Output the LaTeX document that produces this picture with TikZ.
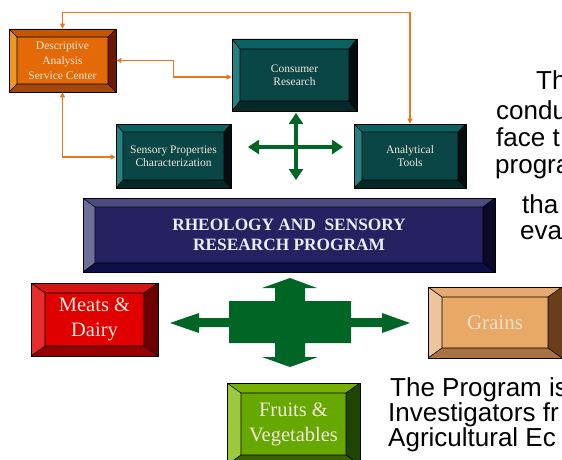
\documentclass[tikz,border=0pt]{standalone}
\usepackage{fontspec}
\setmainfont{Liberation Serif}
\newfontfamily\arialf{Liberation Sans}
\usetikzlibrary{arrows.meta}
\definecolor{orln}{RGB}{232,119,30}
\definecolor{grn}{RGB}{0,102,38}
\definecolor{boxtxt}{RGB}{242,232,220}
% descriptive
\definecolor{dFace}{RGB}{228,106,8}
\definecolor{dTop}{RGB}{196,88,0}
\definecolor{dLeft}{RGB}{238,150,40}
\definecolor{dRight}{RGB}{106,26,0}
\definecolor{dBot}{RGB}{164,72,10}
% teal
\definecolor{tFace}{RGB}{10,70,70}
\definecolor{tTop}{RGB}{10,98,98}
\definecolor{tLeft}{RGB}{38,130,130}
\definecolor{tRight}{RGB}{4,14,14}
\definecolor{tBot}{RGB}{5,40,40}
% navy
\definecolor{nFace}{RGB}{38,34,98}
\definecolor{nTop}{RGB}{75,75,130}
\definecolor{nLeft}{RGB}{110,110,154}
\definecolor{nRight}{RGB}{10,10,40}
\definecolor{nBot}{RGB}{14,14,72}
% red
\definecolor{rFace}{RGB}{224,0,0}
\definecolor{rTop}{RGB}{214,20,20}
\definecolor{rLeft}{RGB}{232,44,44}
\definecolor{rRight}{RGB}{108,0,0}
\definecolor{rBot}{RGB}{150,0,0}
% grains
\definecolor{gFace}{RGB}{232,168,102}
\definecolor{gTop}{RGB}{228,170,112}
\definecolor{gLeft}{RGB}{238,196,154}
\definecolor{gRight}{RGB}{106,62,26}
\definecolor{gBot}{RGB}{168,114,66}
% fruits
\definecolor{fFace}{RGB}{102,168,0}
\definecolor{fTop}{RGB}{120,176,0}
\definecolor{fLeft}{RGB}{156,200,60}
\definecolor{fRight}{RGB}{30,70,0}
\definecolor{fBot}{RGB}{58,96,0}
\tikzset{
 bevelbox/.style n args={7}{
  draw=black, line width=0.8pt, fill=#1, inner sep=0pt, align=center, text=boxtxt,
  path picture={
   \path (path picture bounding box.north west) coordinate (bbNW)
         (path picture bounding box.south east) coordinate (bbSE)
         (path picture bounding box.north east) coordinate (bbNE)
         (path picture bounding box.south west) coordinate (bbSW);
   \path ([shift={(#6pt,-#7pt)}]bbNW) coordinate (biNW)
         ([shift={(-#6pt,-#7pt)}]bbNE) coordinate (biNE)
         ([shift={(-#6pt,#7pt)}]bbSE) coordinate (biSE)
         ([shift={(#6pt,#7pt)}]bbSW) coordinate (biSW);
   \fill[#2] (bbNW) -- (bbNE) -- (biNE) -- (biNW) -- cycle;
   \fill[#3] (bbNW) -- (biNW) -- (biSW) -- (bbSW) -- cycle;
   \fill[#4] (bbNE) -- (bbSE) -- (biSE) -- (biNE) -- cycle;
   \fill[#5] (bbSW) -- (biSW) -- (biSE) -- (bbSE) -- cycle;
   \draw[line width=0.6pt] (biNW) rectangle (biSE) (bbNW)--(biNW) (bbNE)--(biNE) (bbSE)--(biSE) (bbSW)--(biSW);
  }
 },
 orarrow/.style={draw=orln, line width=1.3pt, {Triangle[length=5pt,width=5pt]}-{Triangle[length=5pt,width=5pt]}},
 crossarrow/.style={draw=grn, line width=3.5pt, {Triangle[length=11pt,width=14pt]}-{Triangle[length=11pt,width=14pt]}},
 bodytext/.style={font=\arialf\fontsize{26}{27}\selectfont, text=black, inner sep=0pt, anchor=base west},
 smallf/.style={font=\fontsize{11.5}{13}\selectfont},
 bigf/.style={font=\fontsize{20.5}{24.5}\selectfont}
}
\begin{document}
\begin{tikzpicture}[x=1pt,y=-1pt]
\useasboundingbox[fill=white] (0,0) rectangle (562,460);

% boxes
\node[bevelbox={dFace}{dTop}{dLeft}{dRight}{dBot}{8}{8}, minimum width=107pt, minimum height=63pt,
  font=\fontsize{11.5}{15}\selectfont] (desc) at (62.5,60.5) {Descriptive\\Analysis\\Service Center};
\node[bevelbox={tFace}{tTop}{tLeft}{tRight}{tBot}{8}{10}, minimum width=125pt, minimum height=72pt, smallf]
  (cons) at (294.5,75) {Consumer\\Research};
\node[bevelbox={tFace}{tTop}{tLeft}{tRight}{tBot}{7}{8}, minimum width=115pt, minimum height=64pt, smallf]
  (sens) at (173.5,156) {Sensory Properties\\Characterization};
\node[bevelbox={tFace}{tTop}{tLeft}{tRight}{tBot}{8}{8}, minimum width=112pt, minimum height=64pt, smallf]
  (anal) at (410,156) {Analytical\\Tools};
\node[bevelbox={nFace}{nTop}{nLeft}{nRight}{nBot}{12}{9}, minimum width=412pt, minimum height=74pt,
  font=\bfseries\fontsize{17.3}{20}\selectfont, text={rgb,255:red,236;green,236;blue,244}]
  (rheo) at (289,235) {RHEOLOGY AND\ \ SENSORY\\RESEARCH PROGRAM};
\node[bevelbox={rFace}{rTop}{rLeft}{rRight}{rBot}{14}{10}, minimum width=127pt, minimum height=73pt, bigf]
  (meat) at (94.5,319.5) {Meats \&\\Dairy};
\node[bevelbox={gFace}{gTop}{gLeft}{gRight}{gBot}{14}{10}, minimum width=134pt, minimum height=71pt,
  font=\fontsize{21}{24}\selectfont, text={rgb,255:red,240;green,222;blue,204}]
  (grain) at (495,322.5) {Grains};
\node[bevelbox={fFace}{fTop}{fLeft}{fRight}{fBot}{14}{10}, minimum width=133pt, minimum height=82pt,
  font=\fontsize{20.5}{25}\selectfont]
  (fruit) at (293.5,424) {Fruits \&\\Vegetables};

% orange connectors
\draw[orarrow] (desc.north) -- ++(0,-16) -| (anal.north);
\draw[orarrow] (desc.east) -- ++(57,0) |- ([yshift=-2pt]cons.west);
\draw[orarrow] (desc.south) |- ([yshift=-1pt]sens.west);

% small green cross
\coordinate (cU) at (296,113);
\coordinate (cD) at (296,180);
\coordinate (cL) at (248,147);
\coordinate (cR) at (343,147);
\draw[crossarrow] (cU) -- (cD);
\draw[crossarrow] (cL) -- (cR);

% big green arrow
\fill[grn] (290,278) -- (317,288) -- (305,288) -- (305,301) -- (351,301) -- (351,318) -- (382,318)
  -- (382,313) -- (410,323) -- (382,333) -- (382,327) -- (351,327) -- (351,343) -- (305,343)
  -- (305,357) -- (318,357) -- (290,367) -- (262,357) -- (275,357) -- (275,343) -- (229,343)
  -- (229,327) -- (199,327) -- (199,333) -- (170,323) -- (199,313) -- (199,318) -- (229,318)
  -- (229,301) -- (275,301) -- (275,288) -- (262,288) -- cycle;

% body text
\node[bodytext] (t1) at (536,89) {The};
\node[bodytext] (t2) at (496,119) {condu};
\node[bodytext] (t3) at (496,146) {face t};
\node[bodytext] (t4) at (495,173) {progra};
\node[bodytext] (t5) at (522,213) {tha};
\node[bodytext] (t6) at (520,239) {eva};
\node[bodytext] (b1) at (390,396) {The Program is};
\node[bodytext] (b2) at (388,421) {Investigators fr};
\node[bodytext] (b3) at (388,446) {Agricultural Ec};
\end{tikzpicture}
\end{document}
